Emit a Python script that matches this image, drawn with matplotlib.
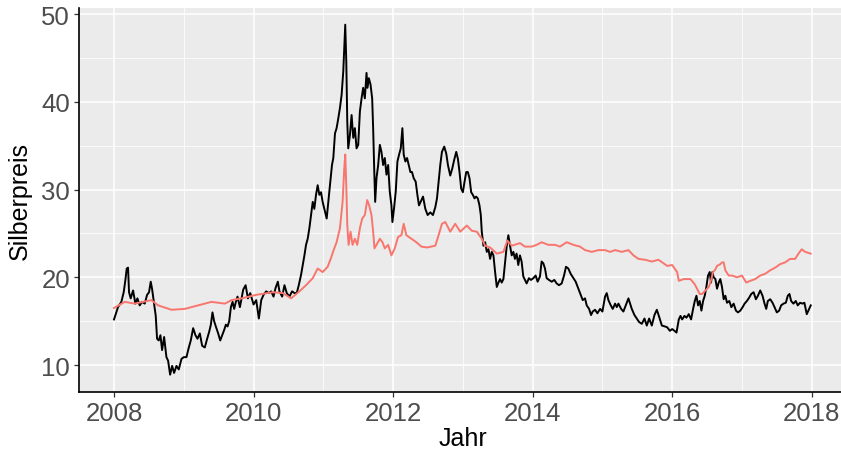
import matplotlib
matplotlib.use("Agg")
import matplotlib.pyplot as plt
from matplotlib.ticker import MultipleLocator

# ---- data ----
years_black = [
    2008.000, 2008.057, 2008.105, 2008.139, 2008.163, 2008.182, 2008.201, 2008.215, 2008.239, 2008.273,
    2008.306, 2008.335, 2008.368, 2008.402, 2008.440, 2008.474, 2008.502, 2008.526, 2008.545, 2008.574,
    2008.598, 2008.617, 2008.641, 2008.665, 2008.689, 2008.718, 2008.751, 2008.775, 2008.804, 2008.833,
    2008.861, 2008.895, 2008.928, 2008.967, 2009.000, 2009.038, 2009.072, 2009.100, 2009.134, 2009.167,
    2009.196, 2009.230, 2009.263, 2009.301, 2009.335, 2009.364, 2009.388, 2009.411, 2009.435, 2009.459,
    2009.493, 2009.522, 2009.550, 2009.579, 2009.603, 2009.627, 2009.651, 2009.675, 2009.699, 2009.722,
    2009.746, 2009.770, 2009.804, 2009.828, 2009.852, 2009.886, 2009.919, 2009.952, 2010.000, 2010.038,
    2010.076, 2010.110, 2010.143, 2010.181, 2010.219, 2010.252, 2010.286, 2010.314, 2010.348, 2010.371,
    2010.410, 2010.443, 2010.476, 2010.514, 2010.552, 2010.586, 2010.619, 2010.648, 2010.681, 2010.705,
    2010.729, 2010.752, 2010.776, 2010.800, 2010.824, 2010.848, 2010.871, 2010.895, 2010.919, 2010.943,
    2010.967, 2010.990, 2011.024, 2011.048, 2011.071, 2011.095, 2011.124,
    2011.143, 2011.167, 2011.190, 2011.214, 2011.238, 2011.262, 2011.286, 2011.300, 2011.314, 2011.329,
    2011.343, 2011.357, 2011.381, 2011.405, 2011.429, 2011.452, 2011.476, 2011.500, 2011.524, 2011.548,
    2011.571, 2011.595, 2011.619, 2011.633, 2011.652, 2011.676, 2011.700, 2011.714, 2011.729, 2011.743,
    2011.762, 2011.786, 2011.810, 2011.833, 2011.857, 2011.881, 2011.905, 2011.929, 2011.952, 2011.976,
    2011.990, 2012.014, 2012.038, 2012.062, 2012.086, 2012.110, 2012.133, 2012.152, 2012.176, 2012.200,
    2012.224, 2012.248, 2012.271, 2012.295, 2012.324, 2012.348, 2012.371,
    2012.429, 2012.462, 2012.495, 2012.533, 2012.571, 2012.605, 2012.629, 2012.652, 2012.676, 2012.700,
    2012.733, 2012.762, 2012.786, 2012.819, 2012.848, 2012.876, 2012.905, 2012.929, 2012.952, 2012.976,
    2013.000, 2013.024, 2013.048, 2013.071, 2013.095, 2013.119, 2013.143, 2013.167, 2013.190, 2013.214,
    2013.238, 2013.257, 2013.271, 2013.295, 2013.319, 2013.343, 2013.367, 2013.390, 2013.414, 2013.438,
    2013.462, 2013.486, 2013.510, 2013.533, 2013.557, 2013.581, 2013.605, 2013.629, 2013.652, 2013.676,
    2013.700, 2013.724,
    2013.746, 2013.770, 2013.794, 2013.818, 2013.842, 2013.866, 2013.890, 2013.914, 2013.947, 2013.976,
    2014.010, 2014.043, 2014.072, 2014.105, 2014.129, 2014.153, 2014.177, 2014.201, 2014.234, 2014.273,
    2014.311, 2014.344, 2014.378, 2014.416, 2014.450, 2014.478, 2014.512, 2014.545, 2014.584, 2014.617,
    2014.656, 2014.689, 2014.718, 2014.751, 2014.775, 2014.809, 2014.837, 2014.861, 2014.895, 2014.928,
    2014.967, 2015.000, 2015.038, 2015.062, 2015.086, 2015.120, 2015.148, 2015.182, 2015.206, 2015.230,
    2015.268, 2015.301, 2015.335, 2015.373, 2015.397, 2015.421, 2015.459, 2015.493, 2015.526, 2015.565,
    2015.603, 2015.636, 2015.670, 2015.708, 2015.746, 2015.780, 2015.813, 2015.852, 2015.895,
    2015.929, 2015.967, 2016.000, 2016.033, 2016.062, 2016.095, 2016.119, 2016.143, 2016.176, 2016.205,
    2016.238, 2016.271, 2016.300, 2016.324, 2016.348, 2016.371, 2016.395, 2016.419, 2016.443, 2016.467,
    2016.490, 2016.514, 2016.538, 2016.557, 2016.576, 2016.595, 2016.619, 2016.643, 2016.667, 2016.690,
    2016.714, 2016.738, 2016.762, 2016.786, 2016.819, 2016.848, 2016.881, 2016.914, 2016.943, 2016.976,
    2017.010, 2017.038, 2017.071, 2017.105, 2017.133, 2017.167, 2017.200, 2017.229, 2017.262, 2017.295,
    2017.324, 2017.348, 2017.371, 2017.405, 2017.438, 2017.467, 2017.500, 2017.533, 2017.562, 2017.595,
    2017.629, 2017.657, 2017.681, 2017.705, 2017.738, 2017.771, 2017.800, 2017.833, 2017.867, 2017.895,
    2017.929, 2017.952, 2017.986,
]
silver_price = [
    15.2, 16.6, 17.2, 18.3, 19.7, 21.0, 21.1, 18.3, 17.6, 18.5,
    17.0, 17.6, 16.8, 17.2, 17.0, 18.0, 18.3, 19.5, 18.7, 17.0,
    15.6, 13.0, 12.8, 13.4, 11.7, 13.2, 10.9, 10.5, 8.9, 9.9,
    9.1, 9.9, 9.5, 10.7, 10.9, 10.9, 12.0, 12.8, 14.2, 13.4,
    13.0, 13.6, 12.2, 12.0, 13.0, 13.8, 14.6, 16.0, 15.0, 14.4,
    13.6, 12.8, 13.4, 14.0, 14.6, 14.4, 15.0, 16.6, 17.2, 16.4,
    17.2, 17.8, 16.6, 17.6, 18.6, 19.1, 17.6, 18.2, 16.9, 17.4,
    15.3, 17.4, 18.0, 18.4, 18.2, 18.4, 17.8, 18.75, 19.5, 18.4,
    17.8, 19.1, 18.2, 17.8, 18.4, 18.2, 18.2, 19.1, 20.3, 21.4,
    22.5, 23.7, 24.4, 25.6, 27.1, 28.6, 27.8, 29.4, 30.5, 29.4,
    29.7, 28.6, 27.5, 26.7, 28.6, 30.5, 32.8,
    33.6, 36.4, 37.0, 38.1, 39.3, 40.8, 43.5, 46.1, 48.8, 44.6,
    37.8, 34.7, 36.2, 38.5, 35.9, 37.0, 34.7, 35.1, 38.9, 40.4,
    41.6, 40.4, 43.3, 41.6, 42.7, 42.0, 40.4, 37.0, 32.4, 28.6,
    31.3, 32.8, 35.1, 34.3, 32.8, 33.6, 31.7, 32.8, 29.8, 28.2,
    26.3, 27.9, 29.8, 33.2, 34.0, 34.7, 37.0, 34.0, 33.2, 33.6,
    32.8, 32.0, 32.0, 31.3, 30.9, 29.4, 28.2,
    29.2, 27.8, 27.1, 27.4, 27.1, 28.0, 29.0, 30.9, 32.8, 34.3,
    34.9, 34.1, 32.8, 31.6, 32.4, 33.4, 34.3, 33.5, 32.0, 30.1,
    29.7, 30.9, 32.0, 32.0, 31.3, 29.7, 29.4, 29.0, 29.2, 29.0,
    28.2, 27.1, 25.2, 23.6, 24.0, 22.9, 23.2, 22.1, 22.9, 22.5,
    20.6, 18.9, 19.4, 19.8, 19.4, 19.8, 21.7, 23.6, 24.8, 23.6,
    22.5, 22.9,
    22.1, 22.7, 21.4, 22.5, 21.8, 20.1, 19.7, 19.3, 19.9, 19.7,
    19.9, 20.2, 19.5, 20.1, 21.8, 21.6, 21.0, 19.9, 19.7, 19.5,
    19.7, 19.3, 19.1, 19.3, 20.2, 21.2, 21.0, 20.4, 19.9, 19.5,
    18.7, 18.0, 17.4, 17.6, 16.8, 16.4, 15.7, 16.1, 16.3, 15.9,
    16.4, 16.1, 17.8, 18.2, 17.4, 16.8, 16.4, 17.0, 16.6, 17.0,
    16.4, 16.1, 16.8, 17.6, 17.0, 16.4, 15.7, 15.3, 14.9, 14.7,
    15.3, 14.5, 15.3, 14.5, 15.7, 16.3, 15.5, 14.5, 14.4,
    14.3, 13.9, 14.1, 13.9, 13.7, 15.2, 15.6, 15.2, 15.6, 15.4,
    15.8, 15.2, 16.4, 17.3, 17.9, 16.8, 17.3, 16.2, 17.3, 17.9,
    18.9, 20.2, 20.6, 19.4, 20.6, 20.0, 19.8, 18.7, 19.4, 19.8,
    18.9, 17.5, 17.9, 17.1, 17.3, 16.6, 17.0, 16.2, 16.0, 16.2,
    16.6, 17.0, 17.3, 17.7, 18.1, 18.3, 17.5, 17.9, 18.5, 17.9,
    17.0, 16.4, 17.3, 17.5, 17.1, 16.6, 16.0, 16.2, 16.8, 17.0,
    17.1, 17.9, 18.1, 17.3, 17.0, 17.3, 16.8, 17.1, 17.0, 17.1,
    15.8, 16.2, 16.8,
]

years_red = [
    2008.000, 2008.153, 2008.297, 2008.536, 2008.632, 2008.823, 2009.014, 2009.206, 2009.397, 2009.589,
    2009.684, 2009.828, 2010.038, 2010.276, 2010.419, 2010.538, 2010.657, 2010.752, 2010.848, 2010.919,
    2010.990, 2011.062, 2011.110, 2011.143, 2011.190, 2011.238, 2011.276, 2011.300, 2011.314, 2011.329,
    2011.343, 2011.362, 2011.390, 2011.419, 2011.452, 2011.486, 2011.524, 2011.557, 2011.595, 2011.629,
    2011.657, 2011.690, 2011.714, 2011.733, 2011.762, 2011.810, 2011.848, 2011.881, 2011.929, 2011.976,
    2012.024, 2012.071, 2012.119, 2012.152, 2012.190, 2012.262, 2012.333, 2012.405, 2012.486, 2012.605,
    2012.652, 2012.700, 2012.748, 2012.819, 2012.890, 2012.962, 2013.057, 2013.129, 2013.200, 2013.271,
    2013.319, 2013.390, 2013.486, 2013.581, 2013.638, 2013.700, 2013.818, 2013.890, 2013.986, 2014.057,
    2014.129, 2014.225, 2014.321, 2014.392, 2014.488, 2014.584, 2014.679, 2014.751, 2014.847, 2014.943,
    2015.038, 2015.110, 2015.182, 2015.278, 2015.373, 2015.445, 2015.517, 2015.612, 2015.708, 2015.804,
    2015.929, 2016.000, 2016.071, 2016.095, 2016.167, 2016.262, 2016.324, 2016.357, 2016.395, 2016.429,
    2016.476, 2016.524, 2016.548, 2016.586, 2016.619, 2016.643, 2016.690, 2016.714, 2016.738, 2016.762,
    2016.810, 2016.857, 2016.929, 2017.000, 2017.062, 2017.119, 2017.190, 2017.262, 2017.333, 2017.405,
    2017.476, 2017.548, 2017.619, 2017.690, 2017.762, 2017.810, 2017.857, 2017.905, 2017.986,
]
red_values = [
    16.5, 17.2, 17.0, 17.4, 16.8, 16.3, 16.4, 16.8, 17.2, 17.0,
    17.4, 17.6, 18.0, 18.3, 18.2, 17.6, 18.4, 19.1, 19.9, 21.0,
    20.6, 21.2, 22.2, 23.0, 24.0, 25.6, 28.6, 32.4, 34.0, 30.5,
    26.0, 23.7, 25.2, 23.7, 24.4, 23.7, 25.6, 26.7, 27.1, 28.8,
    28.2, 27.1, 25.2, 23.3, 23.7, 24.4, 24.0, 23.3, 23.7, 22.5,
    23.3, 24.6, 24.8, 26.1, 24.8, 24.4, 24.0, 23.5, 23.4, 23.6,
    24.8, 26.1, 26.3, 25.2, 26.1, 25.2, 25.9, 25.3, 25.2, 24.4,
    23.6, 23.4, 22.7, 22.9, 24.2, 23.6, 23.9, 23.5, 23.5, 23.7,
    24.0, 23.7, 23.7, 23.5, 24.0, 23.7, 23.5, 23.1, 22.9, 23.1,
    23.1, 22.9, 23.1, 22.9, 23.1, 22.5, 22.1, 22.0, 21.8, 22.0,
    21.3, 21.4, 20.6, 19.6, 19.8, 19.8, 19.2, 18.7, 18.1, 18.1,
    18.5, 18.9, 19.4, 20.6, 20.9, 21.3, 21.5, 21.7, 21.7, 20.8,
    20.2, 20.2, 20.0, 20.2, 19.4, 19.6, 19.8, 20.2, 20.4, 20.8,
    21.1, 21.5, 21.7, 22.1, 22.1, 22.7, 23.2, 22.9, 22.7,
]

x_ticks = [2008, 2010, 2012, 2014, 2016, 2018]
y_ticks = [10, 20, 30, 40, 50]
x_label = "Jahr"
y_label = "Silberpreis"

# ---- figure ----
plt.rcParams['font.family'] = ['Liberation Sans', 'DejaVu Sans']
W, H = 841, 452
fig = plt.figure(figsize=(W / 100, H / 100), dpi=100)
ax = fig.add_axes([79 / W, (H - 392.7) / H, (846.6 - 79) / W, (392.7 - 9) / H])
ax.set_facecolor('#EBEBEB')

ax.plot(years_black, silver_price, color='black', lw=1.4, zorder=3)
ax.plot(years_red, red_values, color='#F8766D', lw=1.4, zorder=4)

ax.set_xlim(2007.498, 2018.5)
ax.set_ylim(6.96, 50.7)
ax.set_xticks(x_ticks)
ax.set_yticks(y_ticks)
ax.xaxis.set_minor_locator(MultipleLocator(1))
ax.yaxis.set_minor_locator(MultipleLocator(5))
ax.grid(which='major', color='white', lw=1.1, zorder=0)
ax.grid(which='minor', color='white', lw=0.55, zorder=0)
ax.set_axisbelow(True)

for s in ['top', 'right']:
    ax.spines[s].set_visible(False)
for s in ['left', 'bottom']:
    ax.spines[s].set_color('black')
    ax.spines[s].set_linewidth(1.2)

ax.tick_params(which='major', length=3.5, width=0.9, color='#333333',
               labelsize=18.5, labelcolor='#4D4D4D', pad=3)
ax.tick_params(which='minor', length=0)

ax.set_xlabel(x_label, fontsize=18, color='black', labelpad=1)
ax.set_ylabel(y_label, fontsize=18, color='black', labelpad=7)

fig.savefig('out.png', dpi=100)
